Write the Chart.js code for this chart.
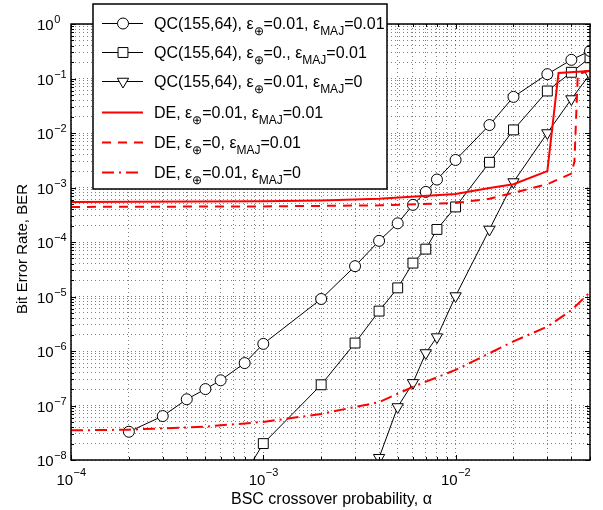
<!DOCTYPE html>
<html>
<head>
<meta charset="utf-8">
<script src="https://cdn.jsdelivr.net/npm/chart.js@4.4.1/dist/chart.umd.min.js"></script>
<style>
  body { margin: 0; background: #fff; }
  #wrap { width: 603px; height: 510px; }
</style>
</head>
<body>
<div id="wrap"><canvas id="ber-chart" width="603" height="510"></canvas></div>
<script>
// Datos
const qcAlpha = [2e-4, 3e-4, 4e-4, 5e-4, 6e-4, 8e-4, 1e-3, 2e-3, 3e-3, 4e-3, 5e-3, 6e-3, 7e-3, 8e-3, 1e-2, 1.5e-2, 2e-2, 3e-2, 4e-2, 5e-2];
const qcBerBoth = [3.3e-8, 6.4e-8, 1.3e-7, 2e-7, 2.9e-7, 6e-7, 1.35e-6, 9e-6, 3.6e-5, 1.05e-4, 2.2e-4, 4.8e-4, 8.3e-4, 1.4e-3, 3.2e-3, 0.014, 0.046, 0.12, 0.22, 0.32];

const qcAlphaXor0 = [8e-4, 1e-3, 2e-3, 3e-3, 4e-3, 5e-3, 6e-3, 7e-3, 8e-3, 1e-2, 1.5e-2, 2e-2, 3e-2, 4e-2, 5e-2];
const qcBerXor0 = [5.5e-9, 2e-8, 2.4e-7, 1.4e-6, 5.4e-6, 1.44e-5, 4.1e-5, 7.4e-5, 1.7e-4, 4.4e-4, 2.9e-3, 0.0114, 0.059, 0.13, 0.24];

const qcAlphaMaj0 = [4e-3, 5e-3, 6e-3, 7e-3, 8e-3, 1e-2, 1.5e-2, 2e-2, 3e-2, 4e-2, 5e-2];
const qcBerMaj0 = [1.1e-8, 9.4e-8, 2.6e-7, 9.2e-7, 1.8e-6, 1.02e-5, 1.7e-4, 1.26e-3, 0.01, 0.042, 0.12];

const deAlphaBoth = [1e-4, 1e-3, 2e-3, 4e-3, 1e-2, 1.5e-2, 2e-2, 3e-2, 3.43e-2, 5e-2];
const deBerBoth = [5.4e-4, 5.6e-4, 5.8e-4, 6.2e-4, 7.6e-4, 9.8e-4, 1.15e-3, 2.0e-3, 0.126, 0.137];

const deAlphaXor0 = [1e-4, 1e-3, 4e-3, 1e-2, 1.5e-2, 2e-2, 3e-2, 4e-2, 4.15e-2, 4.32e-2, 5e-2];
const deBerXor0 = [4.4e-4, 4.5e-4, 4.7e-4, 5.2e-4, 6.2e-4, 8e-4, 1.15e-3, 1.8e-3, 3e-3, 0.12, 0.14];

const deAlphaMaj0 = [1e-4, 2e-4, 5e-4, 1e-3, 2e-3, 3e-3, 4e-3, 6e-3, 1e-2, 2e-2, 3e-2, 4e-2, 5e-2];
const deBerMaj0 = [3.5e-8, 3.6e-8, 4.1e-8, 5e-8, 7e-8, 9.4e-8, 1.15e-7, 2.2e-7, 4.5e-7, 1.5e-6, 2.8e-6, 5.6e-6, 1.2e-5];

// Ejes
const xDecades = [-4, -3, -2];
const yDecades = [-8, -7, -6, -5, -4, -3, -2, -1, 0];
const xMin = 1e-4, xMax = 5e-2;
const yMin = 1e-8, yMax = 1;

// Leyenda (subindices marcados con sub)
const legendRows = [
    [{t: 'QC(155,64), '}, {t: 'ε'}, {t: '⊕', sub: true}, {t: '=0.01, '}, {t: 'ε'}, {t: 'MAJ', sub: true}, {t: '=0.01'}],
    [{t: 'QC(155,64), '}, {t: 'ε'}, {t: '⊕', sub: true}, {t: '=0., '}, {t: 'ε'}, {t: 'MAJ', sub: true}, {t: '=0.01'}],
    [{t: 'QC(155,64), '}, {t: 'ε'}, {t: '⊕', sub: true}, {t: '=0.01, '}, {t: 'ε'}, {t: 'MAJ', sub: true}, {t: '=0'}],
    [{t: 'DE, '}, {t: 'ε'}, {t: '⊕', sub: true}, {t: '=0.01, '}, {t: 'ε'}, {t: 'MAJ', sub: true}, {t: '=0.01'}],
    [{t: 'DE, '}, {t: 'ε'}, {t: '⊕', sub: true}, {t: '=0, '}, {t: 'ε'}, {t: 'MAJ', sub: true}, {t: '=0.01'}],
    [{t: 'DE, '}, {t: 'ε'}, {t: '⊕', sub: true}, {t: '=0.01, '}, {t: 'ε'}, {t: 'MAJ', sub: true}, {t: '=0'}]
];

const FONT = '"Liberation Sans", Arial, sans-serif';
const RED = '#ff0000';

function toPoints(xs, ys) {
    return xs.map(function(x, i) { return {x: x, y: ys[i]}; });
}

function logTicks(decades, max) {
    var vals = [];
    decades.forEach(function(d) {
        for (var k = 1; k <= 9; k++) {
            var v = k * Math.pow(10, d);
            if (v <= max * 1.0001) vals.push(v);
        }
    });
    return vals;
}

var black = {
    borderColor: '#000', borderWidth: 1, pointBackgroundColor: '#fff',
    pointBorderColor: '#000', pointBorderWidth: 1, fill: false, tension: 0, order: 1
};

var datasets = [
    Object.assign({}, black, {label: 'qc1', data: toPoints(qcAlpha, qcBerBoth), pointStyle: 'circle', pointRadius: 5.5}),
    Object.assign({}, black, {label: 'qc2', data: toPoints(qcAlphaXor0, qcBerXor0), pointStyle: 'rect', pointRadius: 7}),
    Object.assign({}, black, {label: 'qc3', data: toPoints(qcAlphaMaj0, qcBerMaj0), pointStyle: 'triangle', pointRotation: 180, pointRadius: 6.5}),
    {label: 'de1', data: toPoints(deAlphaBoth, deBerBoth), borderColor: RED, borderWidth: 2, pointRadius: 0, fill: false, tension: 0, order: 0},
    {label: 'de2', data: toPoints(deAlphaXor0, deBerXor0), borderColor: RED, borderWidth: 2, borderDash: [9, 7], pointRadius: 0, fill: false, tension: 0, order: 0},
    {label: 'de3', data: toPoints(deAlphaMaj0, deBerMaj0), borderColor: RED, borderWidth: 2, borderDash: [12, 5, 2, 5], pointRadius: 0, fill: false, tension: 0, order: 0}
];

// Estilo de las muestras de la leyenda
var legendSamples = [
    {color: '#000', width: 1, dash: [], marker: 'circle', r: 5.5},
    {color: '#000', width: 1, dash: [], marker: 'rect', r: 7},
    {color: '#000', width: 1, dash: [], marker: 'triangle', r: 6.5},
    {color: RED, width: 2, dash: []},
    {color: RED, width: 2, dash: [9, 7]},
    {color: RED, width: 2, dash: [12, 5, 2, 5]}
];

function gridOpts() {
    return {color: 'rgba(0,0,0,0.5)', lineWidth: 1, drawTicks: false};
}

/**
 * Dibuja caja, marcas, etiquetas y leyenda al estilo MATLAB
 */
var matlabFrame = {
    id: 'matlabFrame',
    afterDraw: function(chart) {
        var ctx = chart.ctx;
        var a = chart.chartArea;
        var xs = chart.scales.x, ys = chart.scales.y;
        ctx.save();

        // marcas interiores
        ctx.strokeStyle = '#000';
        ctx.lineWidth = 1;
        ctx.setLineDash([]);
        xs.ticks.forEach(function(t) {
            var px = Math.round(xs.getPixelForValue(t.value)) + 0.5;
            var len = Math.abs(Math.log10(t.value) - Math.round(Math.log10(t.value))) < 1e-9 ? 5 : 3;
            ctx.beginPath();
            ctx.moveTo(px, a.bottom); ctx.lineTo(px, a.bottom - len);
            ctx.moveTo(px, a.top); ctx.lineTo(px, a.top + len);
            ctx.stroke();
        });
        ys.ticks.forEach(function(t) {
            var py = Math.round(ys.getPixelForValue(t.value)) + 0.5;
            var len = Math.abs(Math.log10(t.value) - Math.round(Math.log10(t.value))) < 1e-9 ? 5 : 3;
            ctx.beginPath();
            ctx.moveTo(a.left, py); ctx.lineTo(a.left + len, py);
            ctx.moveTo(a.right, py); ctx.lineTo(a.right - len, py);
            ctx.stroke();
        });

        // caja
        ctx.lineWidth = 1.5;
        ctx.strokeRect(a.left, a.top, a.right - a.left, a.bottom - a.top);

        // etiquetas del eje y
        ctx.fillStyle = '#000';
        ctx.textBaseline = 'alphabetic';
        ctx.textAlign = 'left';
        yDecades.forEach(function(d) {
            var py = ys.getPixelForValue(Math.pow(10, d));
            ctx.font = '15px ' + FONT;
            ctx.fillText('10', 37, py + 6);
            var w = ctx.measureText('10').width;
            ctx.font = '11px ' + FONT;
            ctx.fillText(d === 0 ? '0' : '−' + Math.abs(d), 37 + w + 0.5, py - 1);
        });

        // etiquetas del eje x
        xDecades.forEach(function(d) {
            var px = xs.getPixelForValue(Math.pow(10, d));
            ctx.font = '15px ' + FONT;
            var w1 = ctx.measureText('10').width;
            ctx.font = '11px ' + FONT;
            var e = '−' + Math.abs(d);
            var w2 = ctx.measureText(e).width;
            var x0 = px - (w1 + w2) / 2;
            ctx.font = '15px ' + FONT;
            ctx.fillText('10', x0, a.bottom + 25);
            ctx.font = '11px ' + FONT;
            ctx.fillText(e, x0 + w1 + 0.5, a.bottom + 16);
        });

        // titulos de los ejes
        ctx.font = '16px ' + FONT;
        ctx.textAlign = 'center';
        ctx.fillText('BSC crossover probability, α', (a.left + a.right) / 2 + 1, 504);
        ctx.font = '15px ' + FONT;
        ctx.save();
        ctx.translate(27, 249);
        ctx.rotate(-Math.PI / 2);
        ctx.fillText('Bit Error Rate, BER', 0, 0);
        ctx.restore();

        // leyenda
        var box = {x: 93, y: 4, w: 294, h: 185};
        ctx.fillStyle = '#fff';
        ctx.fillRect(box.x, box.y, box.w, box.h);
        ctx.strokeStyle = '#000';
        ctx.lineWidth = 1.5;
        ctx.strokeRect(box.x, box.y, box.w, box.h);
        var rowY = [23, 52, 81, 112, 142, 172];
        legendRows.forEach(function(row, i) {
            var y = rowY[i];
            var s = legendSamples[i];
            ctx.strokeStyle = s.color;
            ctx.lineWidth = s.width;
            ctx.setLineDash(s.dash);
            ctx.beginPath();
            ctx.moveTo(102, y + 0.5); ctx.lineTo(143, y + 0.5);
            ctx.stroke();
            ctx.setLineDash([]);
            if (s.marker) {
                ctx.fillStyle = '#fff';
                ctx.strokeStyle = '#000';
                ctx.lineWidth = 1;
                Chart.helpers.drawPoint(ctx, {pointStyle: s.marker, radius: s.r, borderWidth: 1,
                    rotation: s.marker === 'triangle' ? 180 : 0}, 123, y + 0.5);
            }
            ctx.fillStyle = '#000';
            ctx.textAlign = 'left';
            var x = 154;
            row.forEach(function(seg) {
                if (seg.sub) {
                    ctx.font = '12px ' + FONT;
                    ctx.fillText(seg.t, x, y + 12);
                } else {
                    ctx.font = '16px ' + FONT;
                    ctx.fillText(seg.t, x, y + 6);
                }
                x += ctx.measureText(seg.t).width;
            });
        });
        ctx.restore();
    }
};

new Chart(document.getElementById('ber-chart'), {
    type: 'line',
    data: {datasets: datasets},
    options: {
        responsive: false,
        animation: false,
        layout: {padding: {left: 71, right: 13, top: 24, bottom: 50}},
        plugins: {legend: {display: false}, tooltip: {enabled: false}},
        scales: {
            x: {
                type: 'logarithmic', min: xMin, max: xMax,
                afterBuildTicks: function(scale) {
                    scale.ticks = logTicks(xDecades, xMax).map(function(v) { return {value: v}; });
                },
                ticks: {display: false},
                grid: gridOpts(),
                border: {display: false, dash: [1, 3]}
            },
            y: {
                type: 'logarithmic', min: yMin, max: yMax,
                afterBuildTicks: function(scale) {
                    scale.ticks = logTicks(yDecades, yMax).map(function(v) { return {value: v}; });
                },
                ticks: {display: false},
                grid: gridOpts(),
                border: {display: false, dash: [1, 3]}
            }
        }
    },
    plugins: [matlabFrame]
});
</script>
</body>
</html>
